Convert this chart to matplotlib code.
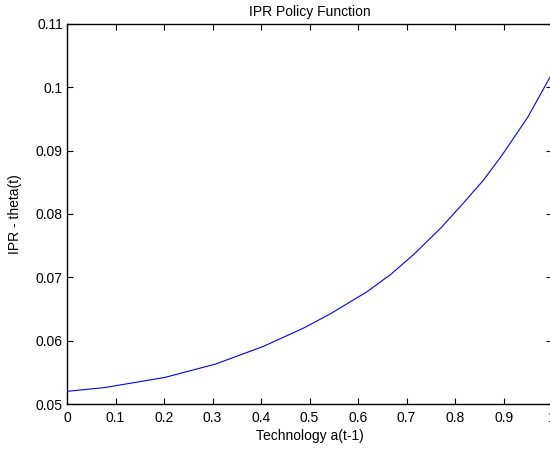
import matplotlib
matplotlib.use('Agg')
import matplotlib.pyplot as plt

# values
tech = [0, 0.078, 0.202, 0.306, 0.405, 0.488, 0.542, 0.618, 0.668, 0.716,
        0.772, 0.818, 0.858, 0.896, 0.950, 1.0]
ipr = [0.0520, 0.0526, 0.0542, 0.0563, 0.0591, 0.0620, 0.0642, 0.0677, 0.0705,
       0.0737, 0.0779, 0.0818, 0.0853, 0.0892, 0.0953, 0.1022]

xticks = [0, 0.1, 0.2, 0.3, 0.4, 0.5, 0.6, 0.7, 0.8, 0.9, 1]
xticklabels = ['0', '0.1', '0.2', '0.3', '0.4', '0.5', '0.6', '0.7', '0.8', '0.9', '1']
yticks = [0.05, 0.06, 0.07, 0.08, 0.09, 0.10, 0.11]
yticklabels = ['0.05', '0.06', '0.07', '0.08', '0.09', '0.1', '0.11']

plt.rcParams['font.family'] = ['Liberation Sans', 'DejaVu Sans']
plt.rcParams['font.size'] = 10

fig = plt.figure(figsize=(5.5, 4.51), dpi=100)
ax = fig.add_axes([0.1218, 0.1042, 0.882, 0.8426])

ax.plot(tech, ipr, color='#0000ff', linewidth=0.8)

ax.set_xlim(0, 1)
ax.set_ylim(0.05, 0.11)
ax.set_xticks(xticks)
ax.set_xticklabels(xticklabels)
ax.set_yticks(yticks)
ax.set_yticklabels(yticklabels)

ax.tick_params(direction='in', length=4, width=0.8, top=True, right=True,
               labelsize=10, colors='black')
ax.tick_params(axis='x', pad=5)
ax.tick_params(axis='y', pad=3)
for s in ax.spines.values():
    s.set_linewidth(1.0)
    s.set_color('black')

ax.set_xlabel('Technology a(t-1)', labelpad=3)
ax.set_ylabel('IPR - theta(t)', labelpad=10)
ax.set_title('IPR Policy Function', pad=6, fontsize=10)

fig.savefig('out.png', dpi=100)
plt.close()
